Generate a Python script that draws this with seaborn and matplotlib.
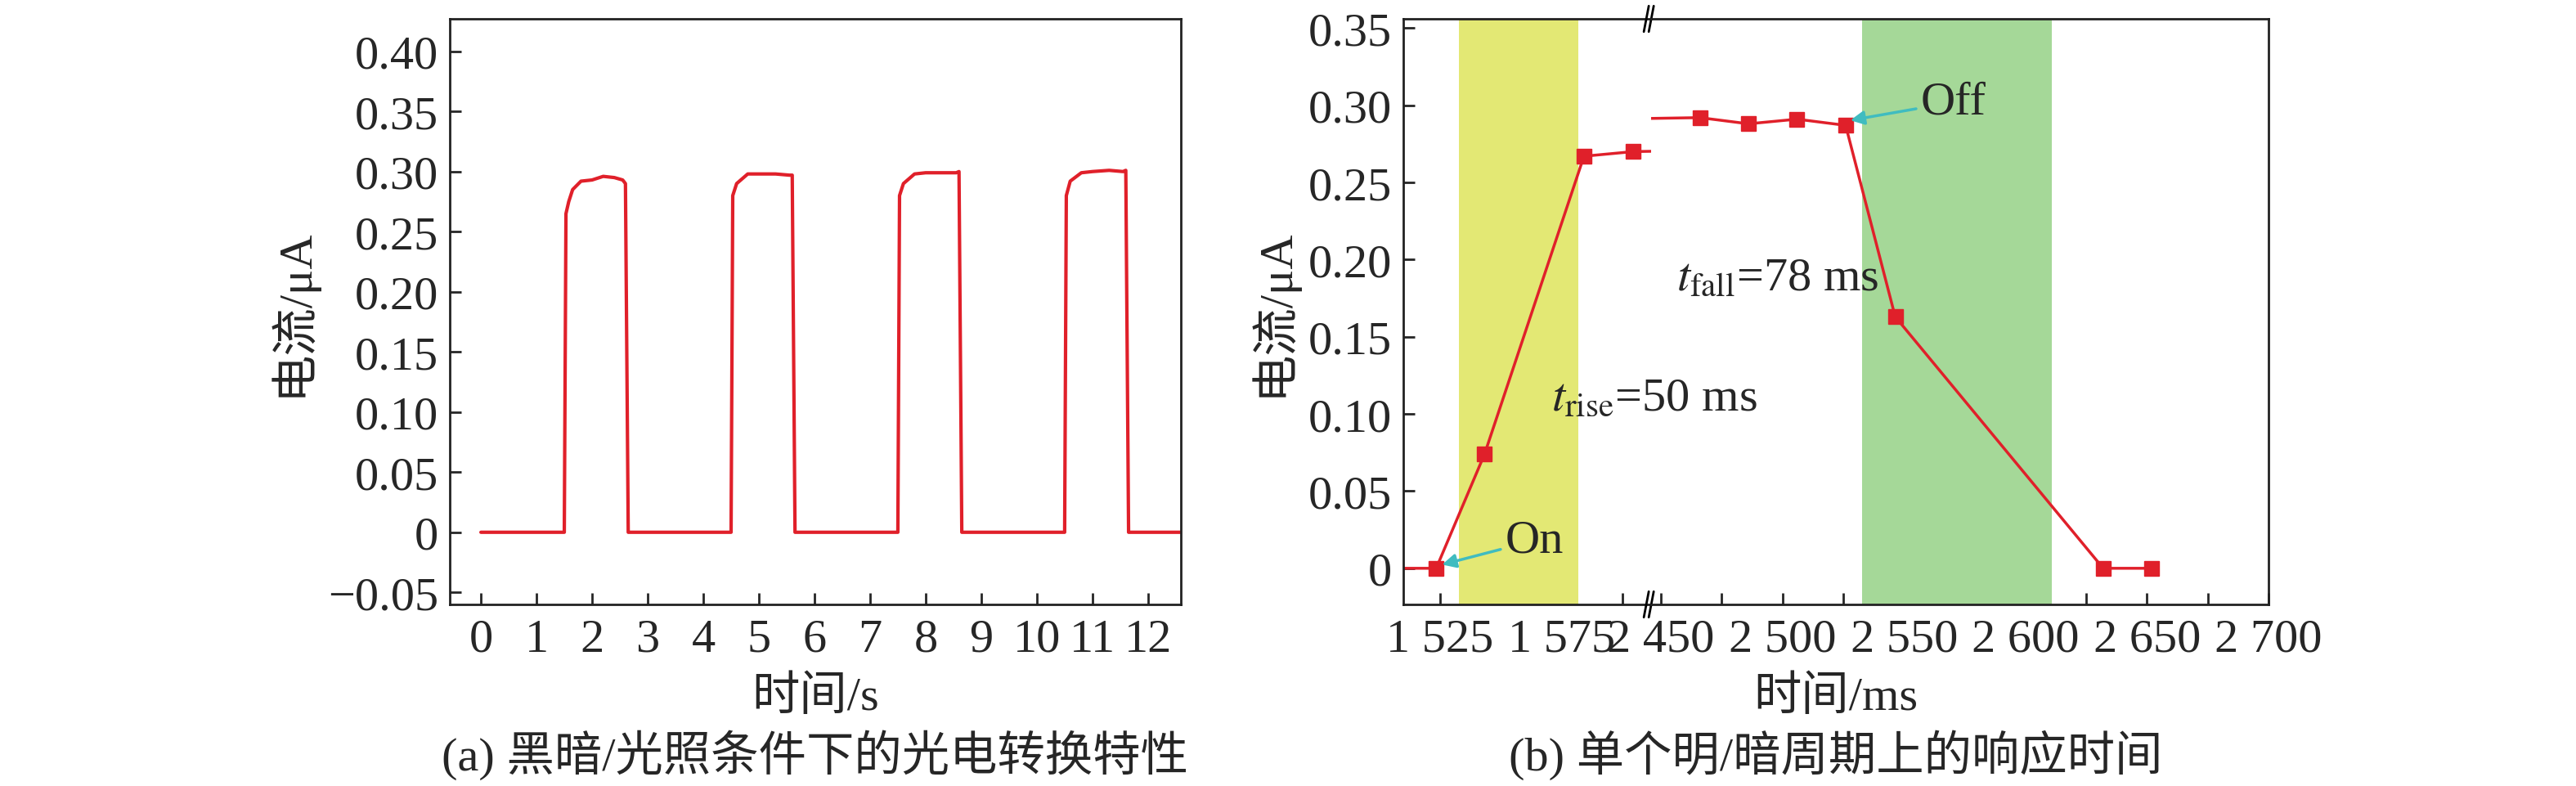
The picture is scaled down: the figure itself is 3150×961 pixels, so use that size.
import matplotlib
matplotlib.use("Agg")
import matplotlib.pyplot as plt
import seaborn as sns
import pandas as pd

sns.set_style("ticks")
plt.rcParams['font.family'] = ['Liberation Serif', 'Noto Sans CJK SC']
plt.rcParams['axes.unicode_minus'] = True
plt.rcParams['mathtext.fontset'] = 'stix'
FS = 42

# Panel (a) data
t_a = [0.0, 1.5, 1.53, 1.58, 1.65, 1.8, 2.0, 2.2, 2.4, 2.55, 2.6, 2.65,
       4.5, 4.53, 4.6, 4.8, 5.0, 5.3, 5.55, 5.6, 5.65,
       7.5, 7.53, 7.6, 7.8, 8.0, 8.3, 8.55, 8.6, 8.65,
       10.5, 10.53, 10.6, 10.8, 11.0, 11.3, 11.55, 11.6, 11.65, 12.6]
i_a = [0.0, 0.0, 0.265, 0.275, 0.285, 0.292, 0.293, 0.296, 0.295, 0.293, 0.29, 0.0,
       0.0, 0.28, 0.29, 0.298, 0.298, 0.298, 0.297, 0.297, 0.0,
       0.0, 0.28, 0.29, 0.298, 0.299, 0.299, 0.299, 0.3, 0.0,
       0.0, 0.28, 0.292, 0.299, 0.3, 0.301, 0.3, 0.301, 0.0, 0.0]

# Panel (b) data
t_b = [1510, 1523.5, 1543.4, 1584.3, 1604.7, 2466, 2486, 2506, 2526, 2546.4, 2632, 2652]
i_b = [0.0, 0.0, 0.074, 0.267, 0.270, 0.292, 0.288, 0.291, 0.287, 0.163, 0.0, 0.0]
rise_span = [1532.8, 1581.9]
fall_span = [2532.9, 2611.0]
yt_b = [0, 0.05, 0.10, 0.15, 0.20, 0.25, 0.30, 0.35]
yl_b = ['0', '0.05', '0.10', '0.15', '0.20', '0.25', '0.30', '0.35']
yt_a = [-0.05, 0, 0.05, 0.10, 0.15, 0.20, 0.25, 0.30, 0.35, 0.40]
yl_a = ['\u22120.05', '0', '0.05', '0.10', '0.15', '0.20', '0.25', '0.30', '0.35', '0.40']

RED = '#e0202a'
CYAN = '#40bcc0'

fig = plt.figure(figsize=(31.5, 9.62), dpi=100)

def style(ax):
    for s in ax.spines.values():
        s.set_linewidth(2.0); s.set_color('#222222')
    ax.tick_params(direction='in', length=10, width=2, labelsize=FS)
    ax.tick_params(axis='x', pad=12)
    ax.tick_params(axis='y', pad=10)

# (a)
axa = fig.add_axes([0.1746, 0.2308, 0.2838, 0.7442])
sns.lineplot(x=t_a, y=i_a, ax=axa, color=RED, linewidth=3)
axa.set_xlim(-0.56, 12.59); axa.set_ylim(-0.060, 0.427)
axa.set_xticks(range(13)); axa.set_yticks(yt_a); axa.set_yticklabels(yl_a)
style(axa)
fig.text(0.3165, 0.113, '时间/s', fontsize=FS, ha='center', va='center')
axa.set_ylabel('电流/μA', fontsize=FS, labelpad=10)
fig.text(0.3165, 0.04, '(a) 黑暗/光照条件下的光电转换特性', fontsize=FS, ha='center', va='center')

# (b)
L, W, B, H = 0.5448, 0.3358, 0.2308, 0.7442
wl = W * 102 / 356
ax1 = fig.add_axes([L, B, wl, H])
ax2 = fig.add_axes([L + wl, B, W - wl, H])
df_b = pd.DataFrame({'t': t_b, 'i': i_b})
for ax in (ax1, ax2):
    ax.patch.set_visible(False)
    ax.axvspan(*rise_span, color='#e3e874', lw=0)
    ax.axvspan(*fall_span, color='#a5d898', lw=0)
    sns.lineplot(data=df_b, x='t', y='i', ax=ax, color=RED, linewidth=2.5)
    ax.plot(t_b[1:], i_b[1:], 's', color=RED, markersize=13)
    ax.set_ylim(-0.0234, 0.356)
    style(ax)
    ax.set_xlabel('')
ax1.set_xlim(1510, 1612); ax2.set_xlim(2446, 2700)
ax1.set_xticks([1525, 1550, 1575, 1600]); ax1.set_xticklabels(['1 525', '', '1 575', ''])
ax2.set_xticks([2450, 2475, 2500, 2525, 2550, 2575, 2600, 2625, 2650, 2675, 2700])
ax2.set_xticklabels(['2 450', '', '2 500', '', '2 550', '', '2 600', '', '2 650', '', '2 700'])
ax1.set_yticks(yt_b); ax1.set_yticklabels(yl_b)
ax2.set_yticks([]); ax2.set_ylabel('')
ax1.spines['right'].set_visible(False); ax2.spines['left'].set_visible(False)
ax1.set_ylabel('电流/μA', fontsize=FS, labelpad=10)
fig.text(L + W / 2, 0.113, '时间/ms', fontsize=FS, ha='center', va='center')
fig.text(L + W / 2, 0.04, '(b) 单个明/暗周期上的响应时间', fontsize=FS, ha='center', va='center')
# break marks
for yy in (0, 1):
    for dx in (-0.008, 0.0):
        ax2.plot([dx - 0.004, dx + 0.004], [yy - 0.022, yy + 0.022], transform=ax2.transAxes,
                 color='black', lw=2, clip_on=False)

ax1.annotate('On', xy=(1525, 0.002), xytext=(1552, 0.018), fontsize=FS,
             arrowprops=dict(arrowstyle='-|>', color=CYAN, lw=2.5, mutation_scale=25),
             va='center')
ax2.annotate('Off', xy=(2527, 0.29), xytext=(2557, 0.302), fontsize=FS,
             arrowprops=dict(arrowstyle='-|>', color=CYAN, lw=2.5, mutation_scale=25),
             va='center')
ax1.text(1570.8, 0.11, r'$t_{\mathrm{rise}}$=50 ms', fontsize=FS, va='center', zorder=10, clip_on=False)
ax2.text(2456.4, 0.188, r'$t_{\mathrm{fall}}$=78 ms', fontsize=FS, va='center')

fig.savefig('out.png', dpi=100)
